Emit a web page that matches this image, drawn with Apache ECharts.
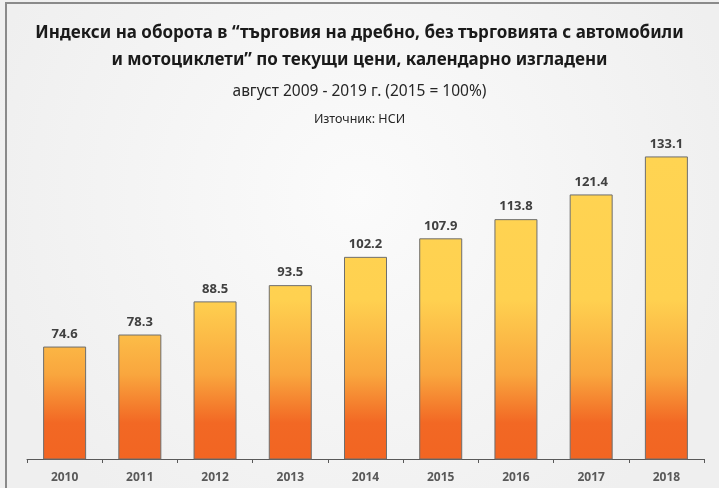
<!DOCTYPE html>
<html>
<head>
<meta charset="utf-8">
<script src="https://cdn.jsdelivr.net/npm/echarts@6/dist/echarts.min.js"></script>
<style>
  html, body { margin: 0; padding: 0; }
  #chart { width: 719px; height: 488px; }
</style>
</head>
<body>
<div id="chart"></div>
<script>
// години и стойности (2015 = 100%)
var years = ['2010', '2011', '2012', '2013', '2014', '2015', '2016', '2017', '2018'];
var values = [74.6, 78.3, 88.5, 93.5, 102.2, 107.9, 113.8, 121.4, 133.1];

var myChart = echarts.init(document.getElementById('chart'));

var option = {
  backgroundColor: new echarts.graphic.RadialGradient(0.5, 0.4, 0.8, [
    {offset: 0, color: '#fbfbfb'},
    {offset: 1, color: '#efefef'}
  ]),
  title: [{
    text: 'Индекси на оборота в “търговия на дребно, без търговията с автомобили\nи мотоциклети” по текущи цени, календарно изгладени',
    left: 'center',
    top: 15,
    textStyle: {
      fontFamily: 'Noto Sans',
      fontWeight: 'bold',
      fontSize: 17,
      lineHeight: 27,
      color: '#1a1a1a'
    }
  }, {
    text: 'август 2009 - 2019 г. (2015 = 100%)',
    left: 'center',
    top: 77,
    textStyle: {
      fontFamily: 'Noto Sans',
      fontWeight: 'normal',
      fontSize: 15.5,
      lineHeight: 20,
      color: '#262626'
    }
  }, {
    text: 'Източник: НСИ',
    left: 'center',
    top: 106,
    textStyle: {
      fontFamily: 'Noto Sans',
      fontWeight: 'normal',
      fontSize: 12.5,
      lineHeight: 16,
      color: '#262626'
    }
  }],
  // рамката (вижда се само отляво и отгоре)
  graphic: [{
    type: 'polyline',
    shape: {points: [[6, 490], [6, 3], [720, 3]]},
    style: {stroke: '#8a8a8a', lineWidth: 2, fill: null}
  }],
  grid: {
    left: 27,
    right: 15,
    top: 134,
    bottom: 29
  },
  xAxis: {
    type: 'category',
    data: years,
    axisLine: {lineStyle: {color: '#595959', width: 1}},
    axisTick: {show: true, alignWithLabel: false, length: 4, lineStyle: {color: '#595959'}},
    axisLabel: {
      fontFamily: 'Open Sans',
      fontWeight: 'bold',
      fontSize: 12,
      color: '#595959',
      margin: 13
    }
  },
  yAxis: {
    type: 'value',
    min: 40,
    max: 140,
    show: false,
    splitLine: {show: false}
  },
  series: [{
    type: 'bar',
    data: values,
    barWidth: 43,
    itemStyle: {
      // градиентът е общ за всички стълбове
      color: new echarts.graphic.LinearGradient(0, 157, 0, 459, [
        {offset: 0, color: '#FFD452'},
        {offset: 0.47, color: '#FFD150'},
        {offset: 0.72, color: '#F9A63E'},
        {offset: 0.88, color: '#F26824'},
        {offset: 1, color: '#F26522'}
      ], true),
      borderColor: '#6e6e6e',
      borderWidth: 1
    },
    label: {
      show: true,
      position: 'top',
      distance: 6,
      fontFamily: 'Open Sans',
      fontWeight: 'bold',
      fontSize: 13,
      color: '#404040'
    }
  }]
};

myChart.setOption(option);
</script>
</body>
</html>
